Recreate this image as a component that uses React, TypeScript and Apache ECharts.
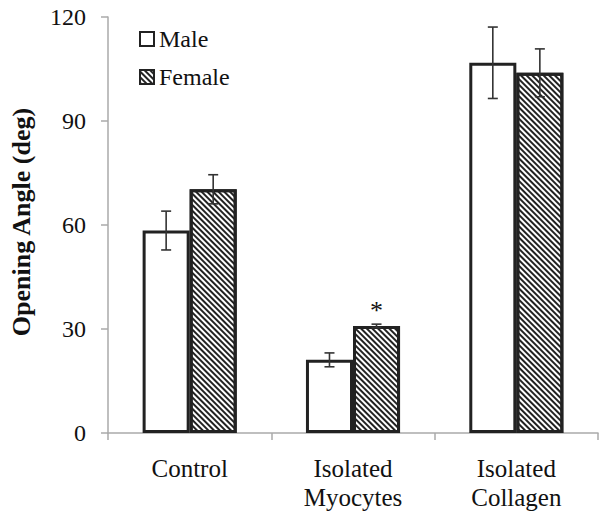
import React, { useEffect, useRef } from "react";
import * as echarts from "echarts";

const categories = ["Control", "Isolated\nMyocytes", "Isolated\nCollagen"];
const maleValues = [58.4, 21.1, 106.8];
const maleErrors = [5.6, 2.0, 10.3];
const femaleValues = [70.3, 30.9, 103.9];
const femaleErrors = [4.2, 0.5, 6.9];
const femaleMarks = ["", "*", ""];
const yTicks = [0, 30, 60, 90, 120];

const FONT = "Liberation Serif";
const BAR_FRACTION = 0.288;

export default function App() {
  const ref = useRef<HTMLDivElement>(null);
  useEffect(() => {
    if (!ref.current) return;
    const chart = echarts.init(ref.current, null, { renderer: "svg" });

    const errData: number[][] = [];
    maleValues.forEach((v, i) => errData.push([i, v, maleErrors[i], -1]));
    femaleValues.forEach((v, i) => errData.push([i, v, femaleErrors[i], 1]));

    const hatch = {
      symbol: "rect",
      symbolSize: 1,
      dashArrayX: [1, 0],
      dashArrayY: [1.8, 2],
      rotation: Math.PI / 4,
      color: "#222",
      backgroundColor: "#fff",
    };

    chart.setOption({
      animation: false,
      textStyle: { fontFamily: FONT },
      grid: { left: 108, right: 9, top: 17, bottom: 86, containLabel: false },
      legend: {
        orient: "vertical",
        left: 134,
        top: 22,
        itemWidth: 14,
        itemHeight: 14,
        itemGap: 14,
        icon: "rect",
        textStyle: { fontFamily: FONT, fontSize: 24, color: "#111" },
        data: ["Male", "Female"],
      },
      xAxis: {
        type: "category",
        data: categories,
        axisLine: { lineStyle: { color: "#aaa", width: 1.5 } },
        axisTick: { show: true, alignWithLabel: false, length: 7, lineStyle: { color: "#aaa", width: 1.5 } },
        axisLabel: {
          fontFamily: FONT,
          fontSize: 25,
          color: "#111",
          margin: 21,
          lineHeight: 29,
          interval: 0,
        },
      },
      yAxis: {
        type: "value",
        min: yTicks[0],
        max: yTicks[yTicks.length - 1],
        interval: 30,
        splitLine: { show: false },
        axisLine: { show: true, lineStyle: { color: "#aaa", width: 1.5 } },
        axisTick: { show: true, length: 7, lineStyle: { color: "#aaa", width: 1.5 } },
        axisLabel: { fontFamily: FONT, fontSize: 24, color: "#111", margin: 22 },
      },
      graphic: [
        {
          type: "text",
          x: 21,
          y: 222,
          rotation: Math.PI / 2,
          style: {
            text: "Opening Angle (deg)",
            fontFamily: FONT,
            fontSize: 26,
            fontWeight: "bold",
            fill: "#111",
            align: "center",
            verticalAlign: "middle",
          },
        },
      ],
      series: [
        {
          name: "Male",
          type: "bar",
          data: maleValues,
          barWidth: `${BAR_FRACTION * 100}%`,
          barGap: "0%",
          itemStyle: { color: "#fff", borderColor: "#222", borderWidth: 3 },
        },
        {
          name: "Female",
          type: "bar",
          data: femaleValues.map((v, i) => ({
            value: v,
            label: femaleMarks[i]
              ? {
                  show: true,
                  formatter: femaleMarks[i],
                  position: "top",
                  distance: 2,
                  fontFamily: FONT,
                  fontSize: 26,
                  color: "#111",
                }
              : { show: false },
          })),
          barWidth: `${BAR_FRACTION * 100}%`,
          barGap: "0%",
          itemStyle: { color: "#fff", borderColor: "#222", borderWidth: 3, decal: hatch },
        },
        {
          name: "err",
          type: "custom",
          z: 10,
          data: errData,
          renderItem: (params: any, api: any) => {
            const cat = api.value(0);
            const val = api.value(1);
            const err = api.value(2);
            const side = api.value(3);
            const bw = api.size([1, 0])[0] * BAR_FRACTION;
            const hi = api.coord([cat, val + err]);
            const lo = api.coord([cat, val - err]);
            const x = hi[0] + (side * bw) / 2;
            const cap = 5;
            const style = { stroke: "#333", lineWidth: 1.6 };
            return {
              type: "group",
              children: [
                { type: "line", shape: { x1: x, y1: hi[1], x2: x, y2: lo[1] }, style },
                { type: "line", shape: { x1: x - cap, y1: hi[1], x2: x + cap, y2: hi[1] }, style },
                { type: "line", shape: { x1: x - cap, y1: lo[1], x2: x + cap, y2: lo[1] }, style },
              ],
            };
          },
        },
      ],
    });
    return () => chart.dispose();
  }, []);
  return <div ref={ref} style={{ width: 607, height: 519, position: "absolute", left: 0, top: 0 }} />;
}
